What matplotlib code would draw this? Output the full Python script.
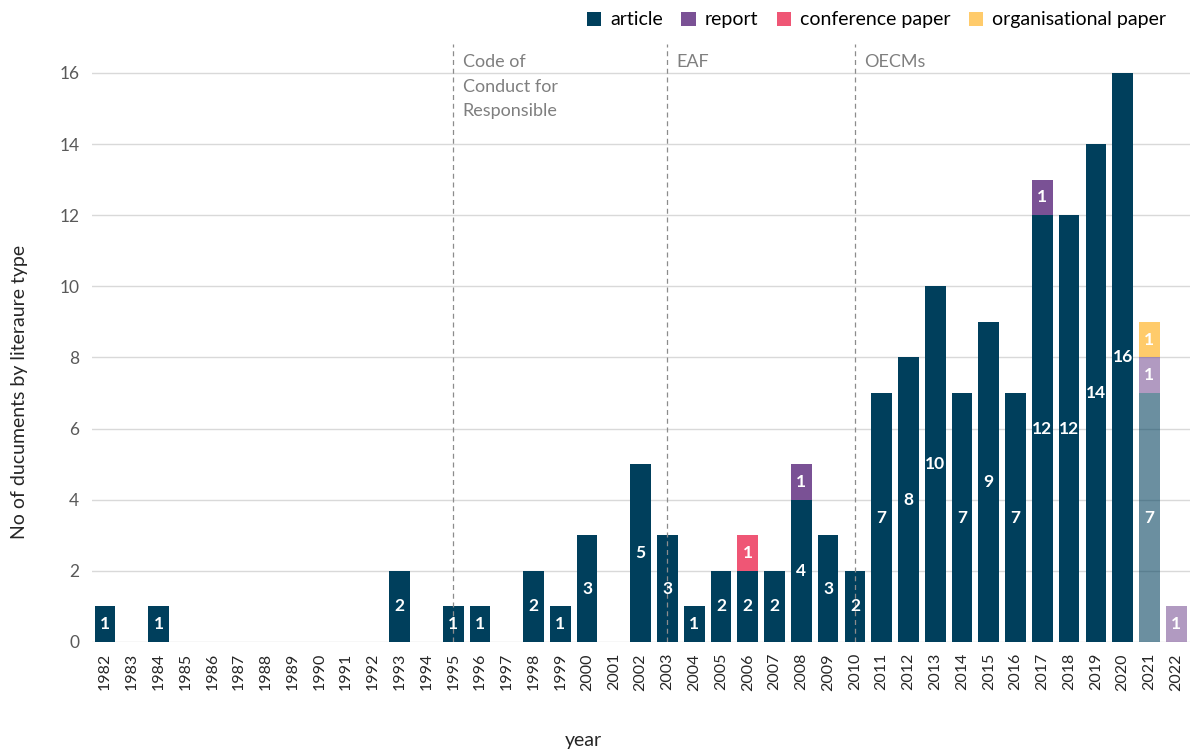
import numpy as np
import matplotlib
matplotlib.use("Agg")
import matplotlib.pyplot as plt
from matplotlib.patches import Patch

plt.rcParams['font.family'] = ['Lato', 'DejaVu Sans']

years = list(range(1982, 2023))

# documents per year, by literature type
article = [1, 0, 1, 0, 0, 0, 0, 0, 0, 0, 0, 2, 0, 1, 1, 0, 2, 1, 3, 0,
           5, 3, 1, 2, 2, 2, 4, 3, 2, 7, 8, 10, 7, 9, 7, 12, 12, 14, 16, 7, 0]
report = [0] * 26 + [1] + [0] * 8 + [1] + [0] * 3 + [1, 1]
conference = [0] * 24 + [1] + [0] * 16
organisational = [0] * 39 + [1, 0]

series_names = ["article", "report", "conference paper", "organisational paper"]
colors = ["#003f5c", "#7a5195", "#ef5675", "#ffa600"]
faded_years = [2021, 2022]

milestones = [(1995, "Code of\nConduct for\nResponsible"), (2003, "EAF"), (2010, "OECMs")]

fig = plt.figure(figsize=(11.92, 7.5), dpi=100)
ax = fig.add_axes([0.077, 0.144, 0.921, 0.7967])

x = np.arange(len(years))
bottom = np.zeros(len(years))
alphas = np.array([0.58 if y in faded_years else 1.0 for y in years])
for vals, col in zip([article, report, conference, organisational], colors):
    vals = np.array(vals, dtype=float)
    for i in range(len(years)):
        if vals[i] <= 0:
            continue
        ax.bar(x[i], vals[i], bottom=bottom[i], width=0.77, color=col,
               alpha=alphas[i], linewidth=0, zorder=3)
        ax.text(x[i], bottom[i] + vals[i] / 2, "%d" % vals[i], color="white",
                fontsize=12.5, fontweight="bold", ha="center", va="center", zorder=5)
    bottom += vals

ax.set_xlim(-0.5, len(years) - 0.5)
ax.set_ylim(0, 16.8)
ax.set_yticks(range(0, 17, 2))
ax.set_xticks(x)
ax.set_xticklabels([str(y) for y in years], rotation=90, fontsize=11.5, color="#262626")
ax.tick_params(axis="y", labelsize=12.5, labelcolor="#595959", length=0, pad=9)
ax.tick_params(axis="x", length=0, pad=8)
for s in ax.spines.values():
    s.set_visible(False)
for yv in range(0, 17, 2):
    ax.axhline(yv, color="#d9d9d9", lw=1, zorder=1)

for yr, label in milestones:
    xi = years.index(yr)
    ax.axvline(xi, ymin=0, ymax=1, color="#8c8c8c", lw=0.9, ls=(0, (4, 3)), zorder=4)
    ax.text(xi + 0.35, 16.52, label, color="#7f7f7f", fontsize=13, ha="left",
            va="top", linespacing=1.65, zorder=4)

fig.text(0.489, 0.013, "year", fontsize=14, ha="center", va="center", color="#262626")
fig.text(0.016, 0.477, "No of ducuments by literaure type", fontsize=14, rotation=90,
         ha="center", va="center", color="#262626")

legend_colors = [colors[0], colors[1], colors[2], "#ffcb6b"]
handles = [Patch(facecolor=c, edgecolor="none") for c in legend_colors]
fig.legend(handles, series_names, loc="upper right", bbox_to_anchor=(0.993, 1.008), ncol=4,
           frameon=False, fontsize=14, handlelength=0.75, handleheight=0.75,
           handletextpad=0.45, columnspacing=0.95)

fig.savefig("out.png", dpi=100)
